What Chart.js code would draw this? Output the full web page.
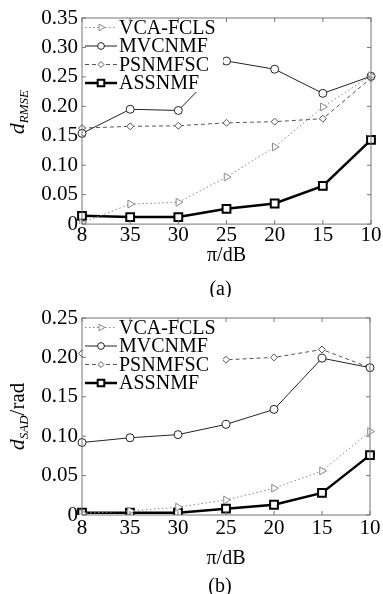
<!DOCTYPE html>
<html>
<head>
<meta charset="utf-8">
<script src="https://cdn.jsdelivr.net/npm/chart.js@4.4.0/dist/chart.umd.min.js"></script>
<style>
  body { margin: 0; background: #fff; }
  #wrap { position: relative; width: 383px; height: 594px; }
  canvas { position: absolute; left: 0; }
</style>
</head>
<body>
<div id="wrap">
  <canvas id="chartA" width="383" height="297" style="top:0"></canvas>
  <canvas id="chartB" width="383" height="297" style="top:297px"></canvas>
</div>
<script>
const categories = ['8', '35', '30', '25', '20', '15', '10'];
const seriesNames = ['VCA-FCLS', 'MVCNMF', 'PSNMFSC', 'ASSNMF'];

// (a) d_RMSE
const rmseVca = [0.002, 0.034, 0.037, 0.080, 0.131, 0.199, 0.252];
const rmseMvc = [0.154, 0.195, 0.193, 0.277, 0.263, 0.222, 0.251];
const rmsePsn = [0.163, 0.166, 0.167, 0.172, 0.174, 0.179, 0.248];
const rmseAss = [0.014, 0.012, 0.012, 0.026, 0.035, 0.065, 0.143];
const rmseTicks = [0, 0.05, 0.10, 0.15, 0.20, 0.25, 0.30, 0.35];

// (b) d_SAD/rad
const sadVca = [0.002, 0.005, 0.010, 0.019, 0.034, 0.056, 0.106];
const sadMvc = [0.092, 0.098, 0.102, 0.115, 0.134, 0.199, 0.187];
const sadPsn = [0.205, 0.197, 0.196, 0.197, 0.200, 0.210, 0.187];
const sadAss = [0.003, 0.003, 0.003, 0.008, 0.013, 0.028, 0.076];
const sadTicks = [0, 0.05, 0.10, 0.15, 0.20, 0.25];

const FONT = '"Liberation Serif", "Times New Roman", serif';

// line / marker look for each series
const styles = [
  { color: '#888', width: 1, dash: [1.5, 2.5], point: 'triangle', rot: 90, r: 4.5, fill: '#fff', pbw: 1 },
  { color: '#222', width: 1, dash: [], point: 'circle', rot: 0, r: 4, fill: '#fff', pbw: 1 },
  { color: '#555', width: 1, dash: [4, 3], point: 'rectRot', rot: 0, r: 3.5, fill: '#fff', pbw: 1 },
  { color: '#000', width: 2.5, dash: [], point: 'rect', rot: 0, r: 5.5, fill: '#fff', pbw: 2 }
];

function makeDatasets(values) {
  return values.map((v, i) => {
    const s = styles[i];
    return {
      label: seriesNames[i],
      data: v,
      borderColor: s.color,
      borderWidth: s.width,
      borderDash: s.dash,
      pointStyle: s.point,
      pointRotation: s.rot,
      pointRadius: s.r,
      pointBorderColor: s.color,
      pointBorderWidth: s.pbw,
      pointBackgroundColor: s.fill,
      tension: 0
    };
  });
}

// box, inward ticks, legend, y title, caption
const decor = {
  id: 'decor',
  afterDatasetsDraw(chart, args, opts) {
    const ctx = chart.ctx;
    const a = chart.chartArea;
    const xs = chart.scales.x, ys = chart.scales.y;

    // legend with white background
    ctx.save();
    ctx.fillStyle = '#fff';
    ctx.fillRect(a.left + 1, a.top + 1, 140, 73);
    ctx.font = '20px ' + FONT;
    ctx.textBaseline = 'middle';
    styles.forEach((s, i) => {
      const y = a.top + 9.5 + i * 18.5;
      const x0 = a.left + 3, x1 = a.left + 35;
      ctx.strokeStyle = s.color;
      ctx.lineWidth = s.width;
      ctx.setLineDash(s.dash);
      ctx.beginPath();
      ctx.moveTo(x0, y);
      ctx.lineTo(x1, y);
      ctx.stroke();
      ctx.setLineDash([]);
      ctx.fillStyle = s.fill;
      ctx.lineWidth = s.pbw;
      Chart.helpers.drawPoint(ctx, { pointStyle: s.point, rotation: s.rot, radius: s.r * 0.85, borderWidth: s.pbw }, (x0 + x1) / 2, y);
      ctx.fillStyle = '#000';
      ctx.fillText(seriesNames[i], x1 + 2, y + 1);
    });

    // axis box and inward ticks
    ctx.strokeStyle = '#777';
    ctx.lineWidth = 1;
    ctx.strokeRect(a.left, a.top, a.right - a.left, a.bottom - a.top);
    ctx.beginPath();
    categories.forEach((c, i) => {
      const x = xs.getPixelForValue(i);
      ctx.moveTo(x, a.bottom); ctx.lineTo(x, a.bottom - 4);
      ctx.moveTo(x, a.top); ctx.lineTo(x, a.top + 4);
    });
    opts.ticks.forEach(t => {
      const y = ys.getPixelForValue(t);
      ctx.moveTo(a.left, y); ctx.lineTo(a.left + 4, y);
      ctx.moveTo(a.right, y); ctx.lineTo(a.right - 4, y);
    });
    ctx.stroke();

    // y title with subscript
    const cy = (a.top + a.bottom) / 2 + opts.ytitleShift;
    ctx.translate(24, cy);
    ctx.rotate(-Math.PI / 2);
    ctx.fillStyle = '#000';
    ctx.textBaseline = 'alphabetic';
    const parts = opts.ytitle;
    let w = 0;
    parts.forEach(p => { ctx.font = p.font; w += ctx.measureText(p.text).width; });
    let x = -w / 2;
    parts.forEach(p => {
      ctx.font = p.font;
      ctx.fillText(p.text, x, p.dy);
      x += ctx.measureText(p.text).width;
    });
    ctx.restore();

    // caption under the x title
    ctx.save();
    ctx.font = '20px ' + FONT;
    ctx.fillStyle = '#000';
    ctx.textAlign = 'center';
    ctx.textBaseline = 'middle';
    ctx.fillText(opts.caption, (a.left + a.right) / 2 - 6, a.bottom + opts.captionGap);
    ctx.restore();
  }
};

function makeChart(id, values, ticks, max, ytitle, caption, lay) {
  return new Chart(document.getElementById(id), {
    type: 'line',
    data: { labels: categories, datasets: makeDatasets(values) },
    plugins: [decor],
    options: {
      responsive: false,
      animation: false,
      layout: { padding: { top: lay.top, right: 9, bottom: lay.bottom, left: 0 } },
      plugins: {
        legend: { display: false },
        tooltip: { enabled: false },
        decor: { ticks: ticks, ytitle: ytitle, caption: caption, captionGap: lay.captionGap, ytitleShift: lay.ytShift }
      },
      scales: {
        x: {
          type: 'category',
          offset: false,
          grid: { display: false, drawTicks: false },
          border: { display: false },
          ticks: { color: '#000', font: { family: FONT, size: 21, lineHeight: lay.tickLh }, padding: lay.tickPad, maxRotation: 0, autoSkip: false },
          title: { display: true, text: 'π/dB', color: '#000', font: { family: FONT, size: 20, lineHeight: 1 }, padding: { top: lay.titlePad, bottom: 0 } }
        },
        y: {
          min: 0,
          max: max,
          afterBuildTicks(scale) { scale.ticks = ticks.map(v => ({ value: v })); },
          afterFit(scale) { scale.width = 82; },
          grid: { display: false, drawTicks: false },
          border: { display: false },
          ticks: {
            color: '#000',
            autoSkip: false,
            font: { family: FONT, size: 21, lineHeight: 1 },
            padding: 4,
            callback: v => v === 0 ? '0' : v.toFixed(2)
          }
        }
      }
    }
  });
}

makeChart('chartA', [rmseVca, rmseMvc, rmsePsn, rmseAss], rmseTicks, 0.35, [
  { text: 'd', font: 'italic 22px ' + FONT, dy: 0 },
  { text: 'RMSE', font: 'italic 13px ' + FONT, dy: 4 }
], '(a)', { top: 18, bottom: 31, tickPad: 1.5, tickLh: 0.9, titlePad: 0, captionGap: 66, ytShift: -9 });

makeChart('chartB', [sadVca, sadMvc, sadPsn, sadAss], sadTicks, 0.25, [
  { text: 'd', font: 'italic 22px ' + FONT, dy: 0 },
  { text: 'SAD', font: 'italic 13px ' + FONT, dy: 4 },
  { text: '/rad', font: '21px ' + FONT, dy: 0 }
], '(b)', { top: 21, bottom: 25, tickPad: 2.5, tickLh: 1, titlePad: 8, captionGap: 72, ytShift: 0 });
</script>
</body>
</html>
